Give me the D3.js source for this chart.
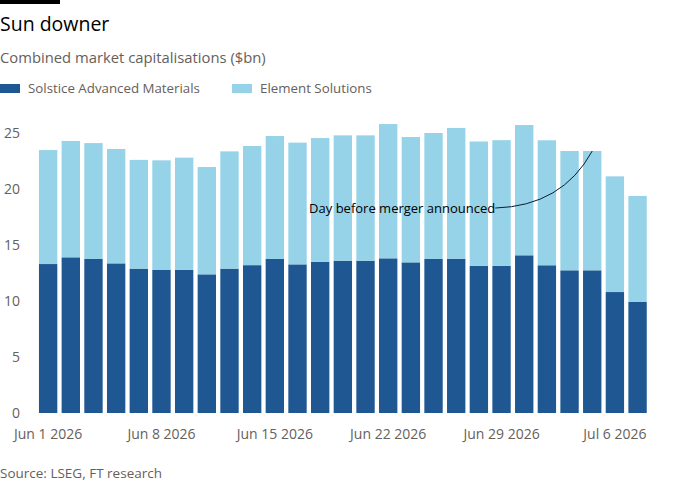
<!DOCTYPE html>
<html>
<head>
<meta charset="utf-8">
<script src="https://cdn.jsdelivr.net/npm/d3@7"></script>
<style>
  body { margin: 0; background: #ffffff; }
  svg { display: block; font-family: "Open Sans", "Noto Sans", sans-serif; }
</style>
</head>
<body>
<svg id="chart" width="700" height="500"></svg>
<script>
const dates = ["2026-06-01","2026-06-02","2026-06-03","2026-06-04","2026-06-05",
               "2026-06-08","2026-06-09","2026-06-10","2026-06-11","2026-06-12",
               "2026-06-15","2026-06-16","2026-06-17","2026-06-18","2026-06-19",
               "2026-06-22","2026-06-23","2026-06-24","2026-06-25","2026-06-26",
               "2026-06-29","2026-06-30","2026-07-01","2026-07-02","2026-07-03",
               "2026-07-06","2026-07-07"];
const solstice = [13.3,13.9,13.75,13.36,12.89,12.8,12.77,12.38,12.89,13.2,
                  13.75,13.27,13.51,13.6,13.6,13.81,13.45,13.75,13.78,13.15,
                  13.13,14.08,13.19,12.74,12.74,10.8,9.91];
const totals = [23.48,24.29,24.1,23.57,22.6,22.56,22.8,21.96,23.36,23.84,
                24.73,24.14,24.55,24.79,24.79,25.8,24.64,25.0,25.45,24.24,
                24.36,25.71,24.35,23.39,23.39,21.13,19.38];
const element = totals.map((t, i) => +(t - solstice[i]).toFixed(2));
const seriesNames = ["Solstice Advanced Materials", "Element Solutions"];
const colors = ["#1e5792", "#96d3e8"];
const yTicks = [0, 5, 10, 15, 20, 25];
const xTickDates = ["2026-06-01","2026-06-08","2026-06-15","2026-06-22","2026-06-29","2026-07-06"];
const annotationDate = "2026-07-03";
const annotationText = "Day before merger announced";

const svg = d3.select("#chart");
const grey = "#66605c";

// Top black bar
svg.append("rect").attr("x", 0).attr("y", 0).attr("width", 60).attr("height", 4).attr("fill", "#000");

svg.append("text").attr("x", 0).attr("y", 31)
  .attr("font-size", 19.5).attr("fill", "#000").text("Sun downer");
svg.append("text").attr("x", 0).attr("y", 63)
  .attr("font-size", 14.8).attr("fill", grey).text("Combined market capitalisations ($bn)");

// Legend
const legendX = [0, 232];
seriesNames.forEach((name, i) => {
  svg.append("rect").attr("x", legendX[i]).attr("y", 84).attr("width", 20).attr("height", 9).attr("fill", colors[i]);
  svg.append("text").attr("x", legendX[i] + 28).attr("y", 93)
    .attr("font-size", 13.3).attr("fill", grey).text(name);
});

const x = d3.scaleBand().domain(dates).range([36.8, 648.9]).paddingInner(0.19).paddingOuter(0.095);
const y = d3.scaleLinear().domain([0, 25]).range([413, 133]);

const data = dates.map((d, i) => ({date: d, "Solstice Advanced Materials": solstice[i], "Element Solutions": element[i]}));
const stacked = d3.stack().keys(seriesNames)(data);

svg.append("g").selectAll("g").data(stacked).join("g")
  .attr("fill", (d, i) => colors[i])
  .selectAll("rect").data(d => d).join("rect")
  .attr("x", d => x(d.data.date))
  .attr("width", x.bandwidth())
  .attr("y", d => y(d[1]))
  .attr("height", d => y(d[0]) - y(d[1]));

// Y axis
const yAxis = svg.append("g").attr("transform", "translate(20,0)")
  .call(d3.axisLeft(y).tickValues(yTicks).tickSize(0).tickPadding(0));
yAxis.select(".domain").remove();
yAxis.selectAll("text").attr("font-size", 14).attr("fill", grey).attr("font-family", "Open Sans, Noto Sans, sans-serif");

// X axis
const fmt = d3.timeFormat("%b %-d %Y");
const parse = d3.timeParse("%Y-%m-%d");
const xAxis = svg.append("g").attr("transform", "translate(0,413)")
  .call(d3.axisBottom(x).tickValues(xTickDates).tickFormat(d => fmt(parse(d))).tickSize(0).tickPadding(16));
xAxis.select(".domain").remove();
xAxis.selectAll("text").attr("font-size", 14).attr("fill", grey).attr("font-family", "Open Sans, Noto Sans, sans-serif");

// Annotation
const ai = dates.indexOf(annotationDate);
const ax = x(annotationDate) + x.bandwidth() / 2;
const ay = y(totals[ai]);
const tx = ax - 97, ty = ay + 57;
svg.append("path")
  .attr("d", `M${tx},${ty} Q${ax - 30},${ty - 2} ${ax},${ay}`)
  .attr("fill", "none").attr("stroke", "#0d1b33").attr("stroke-width", 1);
svg.append("text").attr("x", tx).attr("y", ty + 5)
  .attr("text-anchor", "end").attr("font-size", 13).attr("fill", "#000").text(annotationText);

// Source
svg.append("text").attr("x", 0).attr("y", 478)
  .attr("font-size", 13.5).attr("fill", grey).text("Source: LSEG, FT research");
</script>
</body>
</html>
